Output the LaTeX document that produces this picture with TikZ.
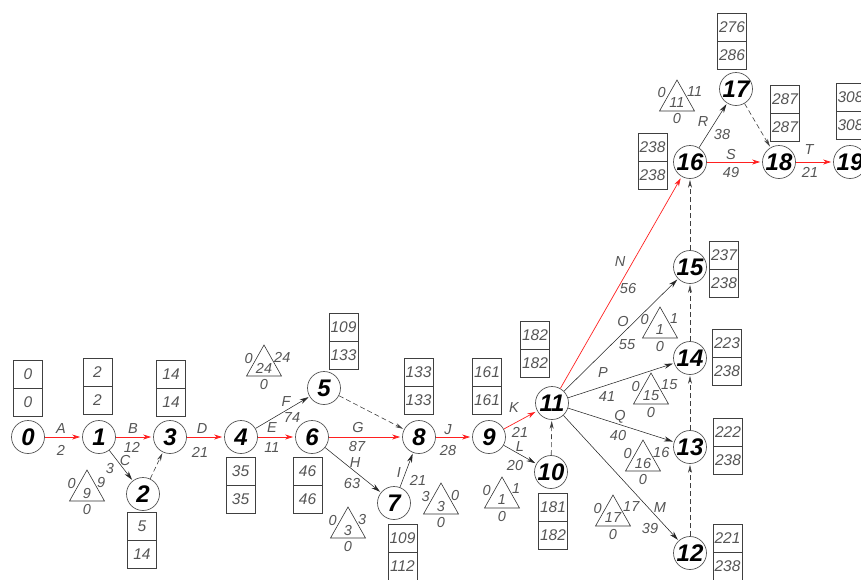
\documentclass[tikz,border=0pt]{standalone}
\usepackage{fontspec}
\setmainfont{Liberation Sans}
\usetikzlibrary{arrows.meta}
\definecolor{txtgray}{HTML}{555555}
\definecolor{linegray}{HTML}{555555}
\definecolor{critred}{HTML}{FF2020}
\tikzset{
  vtx/.style={circle,draw=linegray,line width=0.7pt,fill=white,minimum size=33pt,inner sep=0pt,
    font=\fontsize{24}{24}\selectfont\bfseries\itshape},
  cell/.style={rectangle,draw=black!75,line width=0.6pt,minimum width=29pt,minimum height=28pt,inner sep=0pt,
    font=\fontsize{15.5}{15.5}\selectfont\itshape,text=txtgray},
  lab/.style={inner sep=0pt,font=\fontsize{14.5}{14.5}\selectfont\itshape,text=txtgray},
  crit/.style={draw=critred,line width=0.7pt,-{Stealth[length=8pt,width=5pt]},shorten >=2pt},
  act/.style={draw=black!85,line width=0.55pt,-{Stealth[length=9pt,width=5pt]},shorten >=1pt},
  dum/.style={draw=black!75,line width=0.6pt,dash pattern=on 5pt off 3pt,-{Stealth[length=8pt,width=4pt]},shorten >=1pt},
  trig/.style={draw=black!80,line width=0.6pt}
}
\newcommand{\twocell}[5]{%
  \node[cell] (#1a) at (#2,{#3+14}) {#4};
  \node[cell] (#1b) at (#2,{#3+42}) {#5};}
\newcommand{\flt}[7]{%
  \draw[trig] (#2,#3) -- ++(-17.5,31) -- ++(35,0) -- cycle;
  \node[lab,anchor=east] (#1l) at ({#2-11},{#3+13}) {#4};
  \node[lab,anchor=west] (#1r) at ({#2+10},{#3+12}) {#5};
  \node[lab] (#1c) at (#2,{#3+23}) {#6};
  \node[lab] (#1b) at (#2,{#3+39}) {#7};}
\begin{document}
\begin{tikzpicture}[x=1pt,y=-1pt]
\useasboundingbox (0,0) rectangle (861,579);
% events
\node[vtx] (n0) at (28,437) {0};
\node[vtx] (n1) at (99,437) {1};
\node[vtx] (n2) at (143,494) {2};
\node[vtx] (n3) at (170,437) {3};
\node[vtx] (n4) at (241,437) {4};
\node[vtx] (n5) at (324,388) {5};
\node[vtx] (n6) at (312,437) {6};
\node[vtx] (n7) at (394,503) {7};
\node[vtx] (n8) at (419,437) {8};
\node[vtx] (n9) at (489,437) {9};
\node[vtx] (n10) at (551,472) {10};
\node[vtx] (n11) at (552,403) {11};
\node[vtx] (n12) at (690,553) {12};
\node[vtx] (n13) at (690,447) {13};
\node[vtx] (n14) at (690,358) {14};
\node[vtx] (n15) at (690,267) {15};
\node[vtx] (n16) at (690,162) {16};
\node[vtx] (n17) at (736,89) {17};
\node[vtx] (n18) at (779,162) {18};
\node[vtx] (n19) at (850,162) {19};
% activities
\draw[crit] (n0) -- (n1);
\draw[crit] (n1) -- (n3);
\draw[act] (n1) -- (n2);
\draw[dum] (n2) -- (n3);
\draw[crit] (n3) -- (n4);
\draw[crit] (n4) -- (n6);
\draw[act] (n4) -- (n5);
\draw[crit] (n6) -- (n8);
\draw[act] (n6) -- (n7);
\draw[dum] (n5) -- (n8);
\draw[act] (n7) -- (n8);
\draw[crit] (n8) -- (n9);
\draw[crit] (n9) -- (n11);
\draw[act] (n9) -- (n10);
\draw[dum] (n10) -- (n11);
\draw[crit] (n11) -- (n16);
\draw[act] (n11) -- (n15);
\draw[act] (n11) -- (n14);
\draw[act] (n11) -- (n13);
\draw[act] (n11) -- (n12);
\draw[dum] (n12) -- (n13);
\draw[dum] (n13) -- (n14);
\draw[dum] (n14) -- (n15);
\draw[dum] (n15) -- (n16);
\draw[act] (n16) -- (n17);
\draw[dum] (n17) -- (n18);
\draw[crit] (n16) -- (n18);
\draw[crit] (n18) -- (n19);
% activity labels
\node[lab] (lA) at (61,429) {A};   \node[lab] (dA) at (61,450) {2};
\node[lab] (lB) at (133,429) {B};  \node[lab] (dB) at (132,447) {12};
\node[lab] (lC) at (125,460) {C};  \node[lab] (dC) at (110,468) {3};
\node[lab] (lD) at (202,429) {D};  \node[lab] (dD) at (200,452) {21};
\node[lab] (lE) at (272,428) {E};  \node[lab] (dE) at (272,448) {11};
\node[lab] (lF) at (286,402) {F};  \node[lab] (dF) at (292,418) {74};
\node[lab] (lG) at (358,427) {G};  \node[lab] (dG) at (357,447) {87};
\node[lab] (lH) at (355,463) {H};  \node[lab] (dH) at (352,483) {63};
\node[lab] (lI) at (399,473) {I};  \node[lab] (dI) at (418,480) {21};
\node[lab] (lJ) at (448,430) {J};  \node[lab] (dJ) at (448,450) {28};
\node[lab] (lK) at (514,408) {K};  \node[lab] (dK) at (520,432) {21};
\node[lab] (lL) at (520,447) {L};  \node[lab] (dL) at (515,465) {20};
\node[lab] (lN) at (620,262) {N};  \node[lab] (dN) at (628,289) {56};
\node[lab] (lO) at (623,322) {O};  \node[lab] (dO) at (627,345) {55};
\node[lab] (lP) at (603,373) {P};  \node[lab] (dP) at (607,397) {41};
\node[lab] (lQ) at (620,417) {Q};  \node[lab] (dQ) at (618,435) {40};
\node[lab] (lM) at (660,508) {M};  \node[lab] (dM) at (650,528) {39};
\node[lab] (lR) at (703,122) {R};  \node[lab] (dR) at (722,135) {38};
\node[lab] (lS) at (731,155) {S};  \node[lab] (dS) at (731,173) {49};
\node[lab] (lT) at (809,150) {T};  \node[lab] (dT) at (810,172) {21};
% time boxes
\twocell{b0}{28}{360}{0}{0}
\twocell{b1}{97.5}{358}{2}{2}
\twocell{b3}{171}{360}{14}{14}
\twocell{b2}{142}{512}{5}{14}
\twocell{b4}{240.5}{457}{35}{35}
\twocell{b6}{307.5}{457}{46}{46}
\twocell{b5}{343.5}{313}{109}{133}
\twocell{b8}{418.5}{358}{133}{133}
\twocell{b7}{402.5}{524}{109}{112}
\twocell{b9}{487}{358}{161}{161}
\twocell{b11}{535}{321}{182}{182}
\twocell{b10}{553}{493}{181}{182}
\twocell{b14}{727}{329}{223}{238}
\twocell{b13}{728}{418}{222}{238}
\twocell{b12}{727.5}{524}{221}{238}
\twocell{b15}{724}{241}{237}{238}
\twocell{b16}{652.5}{133}{238}{238}
\twocell{b17}{732}{13}{276}{286}
\twocell{b18}{785}{85}{287}{287}
\twocell{b19}{850.5}{83}{308}{308}
% float triangles
\flt{t1}{87}{470}{0}{9}{9}{0}
\flt{t2}{264}{345}{0}{24}{24}{0}
\flt{t3}{348}{507}{0}{3}{3}{0}
\flt{t4}{441}{483}{3}{0}{3}{0}
\flt{t5}{502}{477}{0}{1}{1}{0}
\flt{t6}{613}{495}{0}{17}{17}{0}
\flt{t7}{643}{440}{0}{16}{16}{0}
\flt{t8}{651}{373}{0}{15}{15}{0}
\flt{t9}{660}{307}{0}{1}{1}{0}
\flt{t10}{677}{80}{0}{11}{11}{0}
\end{tikzpicture}
\end{document}
